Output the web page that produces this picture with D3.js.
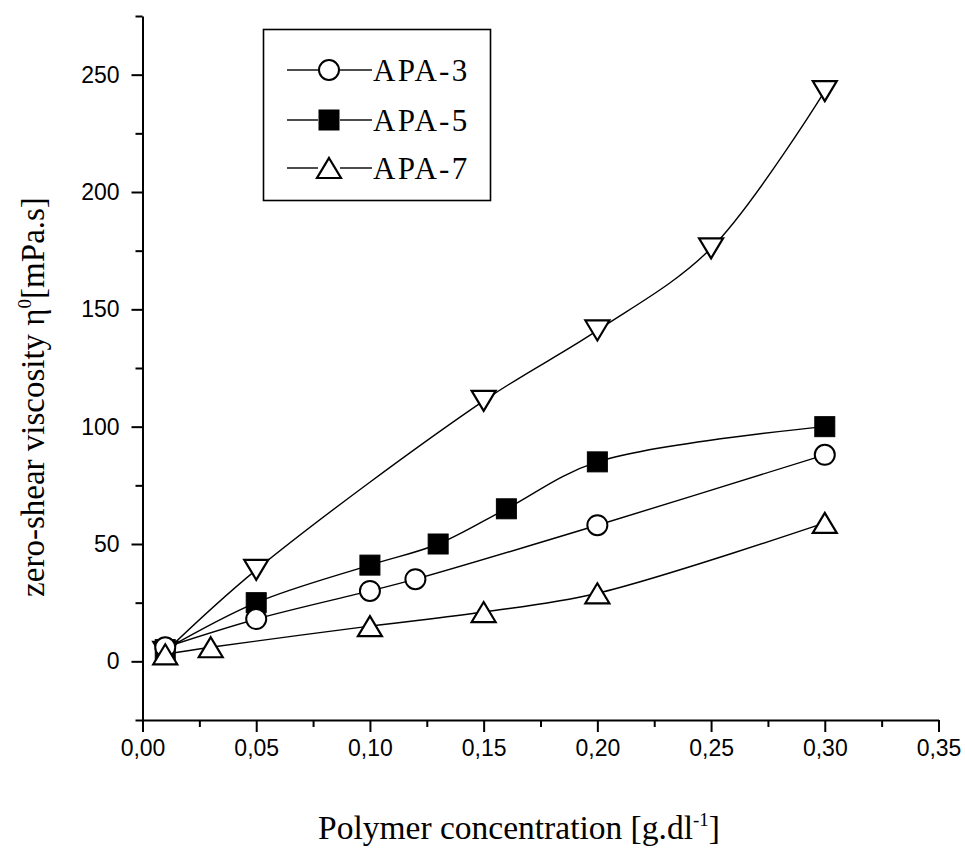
<!DOCTYPE html>
<html>
<head>
<meta charset="utf-8">
<script src="https://cdn.jsdelivr.net/npm/d3@7/dist/d3.min.js"></script>
<style>
  html, body { margin: 0; padding: 0; background: #fff; }
  svg { display: block; }
</style>
</head>
<body>
<svg id="chart" width="965" height="853"></svg>
<script>
// ---- data ----
const apa3X = [0.01, 0.05, 0.10, 0.12, 0.20, 0.30];
const apa3Y = [6, 18, 30, 35, 58, 88];

const apa5X = [0.01, 0.05, 0.10, 0.13, 0.16, 0.20, 0.30];
const apa5Y = [5, 25, 41, 50, 65, 85, 100];

const apa7X = [0.01, 0.03, 0.10, 0.15, 0.20, 0.30];
const apa7Y = [3, 6, 15, 21, 29, 59];

const unlabeledX = [0.01, 0.05, 0.15, 0.20, 0.25, 0.30];
const unlabeledY = [4, 39, 111, 141, 176, 243];

const xMajorTicks = [0, 0.05, 0.10, 0.15, 0.20, 0.25, 0.30, 0.35];
const xMinorTicks = [0.025, 0.075, 0.125, 0.175, 0.225, 0.275, 0.325];
const yMajorTicks = [0, 50, 100, 150, 200, 250];
const yMinorTicks = [-25, 25, 75, 125, 175, 225, 275];

const legendNames = ["APA-3", "APA-5", "APA-7"];
const xTitle = "Polymer concentration [g.dl";
const yTitle = "zero-shear viscosity η";

// ---- drawing ----
const svg = d3.select("#chart");
const x = d3.scaleLinear().domain([0, 0.35]).range([142.5, 938.5]);
const y = d3.scaleLinear().domain([-25, 275]).range([720, 16]);

const fmt = d => d3.format(".2f")(d).replace(".", ",");

// axes
const axisStyle = g => {
  g.selectAll("path").attr("stroke", "#000").attr("stroke-width", 2);
  g.selectAll("line").attr("stroke", "#000").attr("stroke-width", 2);
  g.selectAll("text").attr("fill", "#000")
    .style("font-family", "'Liberation Sans', Arial, sans-serif")
    .style("font-size", "23px");
};

svg.append("g").attr("transform", "translate(0,720)")
  .call(d3.axisBottom(x).tickValues(xMajorTicks).tickFormat(fmt).tickSize(12).tickSizeOuter(0).tickPadding(8))
  .call(axisStyle);
svg.append("g").attr("transform", "translate(0,720)")
  .call(d3.axisBottom(x).tickValues(xMinorTicks).tickFormat("").tickSize(7).tickSizeOuter(0))
  .call(g => g.select("path").remove())
  .call(axisStyle);

svg.append("g").attr("transform", "translate(142.5,0)")
  .call(d3.axisLeft(y).tickValues(yMajorTicks).tickSize(11).tickSizeOuter(0).tickPadding(12))
  .call(axisStyle);
svg.append("g").attr("transform", "translate(142.5,0)")
  .call(d3.axisLeft(y).tickValues(yMinorTicks).tickFormat("").tickSize(7).tickSizeOuter(0))
  .call(g => g.select("path").remove())
  .call(axisStyle);

// axis titles
const serif = "'Liberation Serif', 'Times New Roman', serif";
const xt = svg.append("text")
  .attr("x", 519).attr("y", 839)
  .attr("text-anchor", "middle")
  .style("font-family", serif).style("font-size", "33.5px").attr("fill", "#000");
xt.append("tspan").text(xTitle);
xt.append("tspan").attr("dy", -13).style("font-size", "19px").text("-1");
xt.append("tspan").attr("dy", 13).text("]");

const yt = svg.append("text")
  .attr("transform", "translate(44,397) rotate(-90)")
  .attr("text-anchor", "middle")
  .style("font-family", serif).style("font-size", "33px").attr("fill", "#000");
yt.append("tspan").text(yTitle);
yt.append("tspan").attr("dy", -13).style("font-size", "19px").text("0");
yt.append("tspan").attr("dy", 13).text("[mPa.s]");

// series
const series = [
  { xs: unlabeledX, ys: unlabeledY, sym: "down" },
  { xs: apa5X, ys: apa5Y, sym: "square" },
  { xs: apa3X, ys: apa3Y, sym: "circle" },
  { xs: apa7X, ys: apa7Y, sym: "up" }
];

const line = d3.line()
  .x(d => x(d[0])).y(d => y(d[1]))
  .curve(d3.curveCatmullRom.alpha(0.5));

series.forEach(s => {
  const pts = s.xs.map((v, i) => [v, s.ys[i]]);
  svg.append("path").datum(pts).attr("d", line)
    .attr("fill", "none").attr("stroke", "#000").attr("stroke-width", 1.4);
});

function drawMarker(g, sym, cx, cy) {
  if (sym === "circle") {
    g.append("circle").attr("cx", cx).attr("cy", cy).attr("r", 10)
      .attr("fill", "#fff").attr("stroke", "#000").attr("stroke-width", 2);
  } else if (sym === "square") {
    g.append("rect").attr("x", cx - 10).attr("y", cy - 10).attr("width", 20).attr("height", 20)
      .attr("fill", "#000").attr("stroke", "#000").attr("stroke-width", 1);
  } else if (sym === "up") {
    const w = 12, h = 10;
    g.append("path").attr("d", `M${cx},${cy - h}L${cx + w},${cy + h}L${cx - w},${cy + h}Z`)
      .attr("fill", "#fff").attr("stroke", "#000").attr("stroke-width", 2.2).attr("stroke-linejoin", "miter");
  } else if (sym === "down") {
    const w = 12, h = 10;
    g.append("path").attr("d", `M${cx},${cy + h}L${cx + w},${cy - h}L${cx - w},${cy - h}Z`)
      .attr("fill", "#fff").attr("stroke", "#000").attr("stroke-width", 2.2).attr("stroke-linejoin", "miter");
  }
}

const mg = svg.append("g");
series.forEach(s => {
  s.xs.forEach((v, i) => drawMarker(mg, s.sym, x(v), y(s.ys[i])));
});

// legend
const lg = svg.append("g");
lg.append("rect").attr("x", 263.5).attr("y", 29.5).attr("width", 227).attr("height", 171)
  .attr("fill", "#fff").attr("stroke", "#000").attr("stroke-width", 1.6);
const legendSyms = ["circle", "square", "up"];
const rowY = [70, 120, 168];
legendNames.forEach((name, i) => {
  const cy = rowY[i];
  lg.append("line").attr("x1", 287).attr("x2", 318).attr("y1", cy).attr("y2", cy)
    .attr("stroke", "#000").attr("stroke-width", 1.4);
  lg.append("line").attr("x1", 340).attr("x2", 372).attr("y1", cy).attr("y2", cy)
    .attr("stroke", "#000").attr("stroke-width", 1.4);
  drawMarker(lg, legendSyms[i], 329, cy);
  lg.append("text").attr("x", 373).attr("y", cy + 11)
    .style("font-family", serif).style("font-size", "31px").style("letter-spacing", "2.3px")
    .attr("fill", "#000")
    .text(name);
});
</script>
</body>
</html>
